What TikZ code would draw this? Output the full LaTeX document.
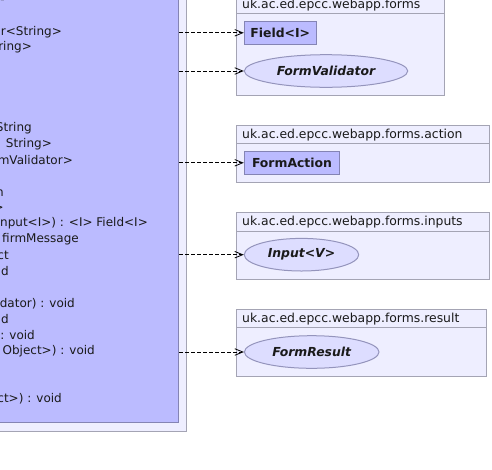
\documentclass[tikz,border=0pt]{standalone}
\usepackage{fontspec}
\setmainfont{DejaVu Sans}
\usetikzlibrary{shapes.geometric,arrows.meta}
\definecolor{clsfill}{HTML}{BBBBFF}
\definecolor{clsdraw}{HTML}{8484B4}
\definecolor{pkgfill}{HTML}{EEEEFF}
\definecolor{pkgdraw}{HTML}{A4A4B4}
\definecolor{ifill}{HTML}{DDDDFF}
\definecolor{idraw}{HTML}{9494BC}
\definecolor{txt}{HTML}{1A1A1A}
\begin{document}
\begin{tikzpicture}[x=1pt,y=-1pt,
  pkg/.style={draw=pkgdraw,fill=pkgfill,line width=1pt},
  clsbox/.style={draw=clsdraw,fill=clsfill,line width=1pt,inner sep=0pt},
  mline/.style={anchor=east,inner sep=0pt,text=txt,font=\fontsize{12}{14}\selectfont},
  ptitle/.style={anchor=west,inner sep=0pt,text=txt,font=\fontsize{12.4}{14}\selectfont},
  klass/.style={draw=clsdraw,fill=clsfill,line width=1pt,inner sep=0pt,text=txt,font=\fontsize{12.4}{14}\selectfont\bfseries},
  iface/.style={ellipse,draw=idraw,fill=ifill,line width=1pt,inner sep=0pt,text=txt,font=\fontsize{12.4}{14}\selectfont\bfseries\itshape},
  dep/.style={draw=black,line width=0.8pt,dash pattern=on 4pt off 2pt,-{Straight Barb[length=8pt,width=6.5pt]}}
]
\useasboundingbox (0,0) rectangle (492,469);
\fill[white] (0,0) rectangle (492,469);
\clip (0,0) rectangle (492,469);

% left package and class
\draw[pkg] (-30,-30) rectangle (186,431);
\node[clsbox,anchor=south east,minimum width=240pt,minimum height=470pt] (cls) at (179,423) {};

\node[mline] at (5,1.5) {-};
\node[mline] at (62,32.5) {r<String>};
\node[mline] at (32,47.5) {ring>};
\node[mline] at (32,128.5) {String};
\node[mline] at (52,144.5) {String>};
\node[mline] at (73,160.5) {mValidator>};
\node[mline] at (4,193.5) {n};
\node[mline] at (4,208.5) {>};
\node[mline] at (148,223.5) {nput<I>) : <I> Field<I>};
\node[mline] at (79,239.5) {firmMessage};
\node[mline] at (9,255.5) {ct};
\node[mline] at (9,271.5) {d};
\node[mline] at (75,303.5) {dator) : void};
\node[mline] at (9,319.5) {id};
\node[mline] at (35,335.5) {: void};
\node[mline] at (95,351.5) {Object>) : void};
\node[mline] at (62,398.5) {ct>) : void};

% package forms
\draw[pkg] (236,-4.5) rectangle (444,95.3);
\draw[pkgdraw,line width=1pt] (236,13.7) -- (444,13.7);
\node[ptitle] (t1) at (242,5) {uk.ac.ed.epcc.webapp.forms};
\node[klass,minimum width=72pt,minimum height=23pt] (field) at (280.3,32.8) {Field<I>};
\node[iface,minimum width=163.4pt,minimum height=32.6pt] (fval) at (326,71) {FormValidator};

% package forms.action
\draw[pkg] (236,125.3) rectangle (489.3,182);
\draw[pkgdraw,line width=1pt] (236,143.3) -- (489.3,143.3);
\node[ptitle] (t2) at (242,135) {uk.ac.ed.epcc.webapp.forms.action};
\node[klass,minimum width=95.4pt,minimum height=23pt] (faction) at (292,162.8) {FormAction};

% package forms.inputs
\draw[pkg] (236,212.3) rectangle (489.5,279);
\draw[pkgdraw,line width=1pt] (236,231) -- (489.5,231);
\node[ptitle] (t3) at (242,222) {uk.ac.ed.epcc.webapp.forms.inputs};
\node[iface,minimum width=114.4pt,minimum height=32.6pt] (finput) at (301.5,254.7) {Input<V>};

% package forms.result
\draw[pkg] (236,309.3) rectangle (486,376);
\draw[pkgdraw,line width=1pt] (236,327.7) -- (486,327.7);
\node[ptitle] (t4) at (242,318.8) {uk.ac.ed.epcc.webapp.forms.result};
\node[iface,minimum width=134.6pt,minimum height=32.6pt] (fresult) at (311.7,352) {FormResult};

% dependencies
\draw[dep] (field -| cls.east) -- (field);
\draw[dep] (fval -| cls.east) -- (fval);
\draw[dep] (faction -| cls.east) -- (faction);
\draw[dep] (finput -| cls.east) -- (finput);
\draw[dep] (fresult -| cls.east) -- (fresult);
\end{tikzpicture}
\end{document}
